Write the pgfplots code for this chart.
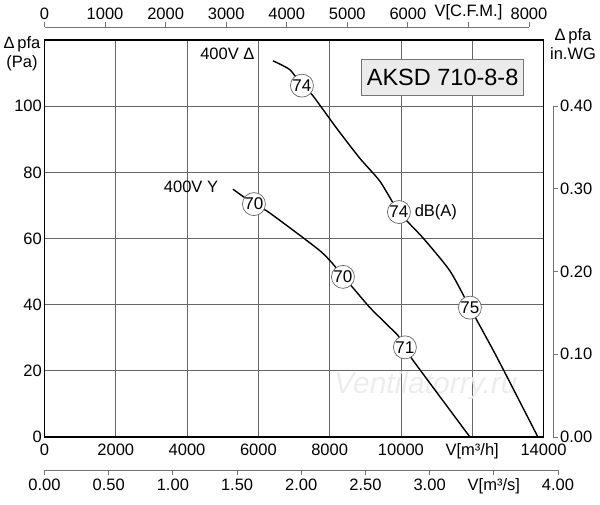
\documentclass[border=0pt]{standalone}
\usepackage{pgfplots}
\pgfplotsset{compat=1.18}
\usepackage{fontspec}
\setmainfont{Liberation Sans}
\newcommand{\tfont}{\fontsize{16.5}{19}\selectfont}
\begin{document}
\begin{tikzpicture}[x=1pt,y=1pt]
\path[use as bounding box] (0,0) rectangle (600,505);
% main axis
\begin{axis}[at={(44.5pt,68pt)}, anchor=south west, scale only axis,
  width=499pt, height=397pt,
  xmin=0, xmax=14000, ymin=0, ymax=120,
  xtick={0,2000,...,14000},
  xticklabels={0,2000,4000,6000,8000,10000,V[m³/h],14000},
  ytick={0,20,...,120},
  yticklabels={0,20,40,60,80,100,{}},
  grid=major, grid style={black!60, line width=0.7pt},
  major tick length=0pt,
  axis line style={black, line width=1.3pt},
  tick label style={font=\tfont, text=black},
  xticklabel style={yshift=-3pt},
  yticklabel style={inner sep=1pt, xshift=-1.5pt},
  scaled ticks=false, clip=false]
\node[font=\itshape\fontsize{30}{36}\selectfont, text=black!7, anchor=center] at (axis cs:10700,15.5) {Ventilatorry.ru};
\addplot[black, line width=1.4pt, smooth, tension=0.4] coordinates {
 (6410,113.7) (6886,111.0) (7223,106.2) (7504,103.5) (8205,93.2) (8850,84.2)
 (9411,77.3) (9944,68.0) (10617,60.2) (11375,50.2) (11936,39.1) (12693,24.1) (13843,0)};
\addplot[black, line width=1.4pt, smooth, tension=0.4] coordinates {
 (5287,74.9) (5876,70.4) (6241,68.3) (6887,63.2) (7728,56.3) (8093,52.3) (8373,48.4)
 (8654,45.1) (9131,39.1) (9692,33.1) (9916,30.7) (10112,27.1) (10337,23.2) (11936,0)};
\addplot[only marks, mark=*, mark size=11.5pt,
  mark options={fill=white, draw=black!60, line width=0.7pt},
  point meta=explicit symbolic,
  nodes near coords, nodes near coords align=center,
  every node near coord/.append style={font=\fontsize{17}{19}\selectfont, anchor=center, inner sep=0pt}]
  coordinates {(7223,106.2)[74] (9944,68.0)[74] (11936,39.1)[75]
               (5876,70.4)[70] (8373,48.4)[70] (10112,27.1)[71]};
\node[font=\tfont, anchor=center] at (axis cs:5130,115.8) {400V Δ};
\node[font=\tfont, anchor=center] at (axis cs:4110,75.5) {400V Y};
\node[font=\tfont, anchor=center] at (axis cs:10980,67.9) {dB(A)};
\node[font=\fontsize{23.5}{27}\selectfont, fill=black!8, draw=black!55, line width=0.8pt,
  inner xsep=5pt, inner ysep=0pt, minimum height=36pt, anchor=center] at (axis cs:11170,108.8) {AKSD 710-8-8};
\end{axis}
% CFM axis (top)
\begin{axis}[at={(44.5pt,478pt)}, anchor=north west, scale only axis,
  width=484.5pt, height=5pt,
  xmin=0, xmax=8000, ymin=0, ymax=1,
  axis x line*=top, axis y line=none,
  xtick={0,1000,...,8000},
  xticklabels={0,1000,2000,3000,4000,5000,6000,V[C.F.M.],8000},
  tick align=outside, major tick length=5pt,
  axis line style={black!55, line width=0.8pt},
  tick style={black!55, line width=0.8pt},
  tick label style={font=\tfont, text=black},
  xticklabel style={yshift=-1pt},
  scaled ticks=false]
\end{axis}
% m3/s axis (bottom)
\begin{axis}[at={(44.5pt,35pt)}, anchor=south west, scale only axis,
  width=513.5pt, height=5pt,
  xmin=0, xmax=4, ymin=0, ymax=1,
  axis x line*=bottom, axis y line=none,
  xtick={0,0.5,...,4},
  xticklabels={0.00,0.50,1.00,1.50,2.00,2.50,3.00,V[m³/s],4.00},
  tick align=outside, major tick length=5pt,
  axis line style={black!55, line width=0.8pt},
  tick style={black!55, line width=0.8pt},
  tick label style={font=\tfont, text=black},
  scaled ticks=false]
\end{axis}
% in.WG axis (right)
\begin{axis}[at={(553pt,68pt)}, anchor=south east, scale only axis,
  width=5pt, height=331pt,
  xmin=0, xmax=1, ymin=0, ymax=0.4,
  axis y line*=right, axis x line=none,
  ytick={0,0.1,...,0.4},
  yticklabels={0.00,0.10,0.20,0.30,0.40},
  tick align=outside, major tick length=5pt,
  axis line style={black!55, line width=0.8pt},
  tick style={black!55, line width=0.8pt},
  tick label style={font=\tfont, text=black},
  yticklabel style={inner sep=1pt, xshift=1pt},
  scaled ticks=false]
\end{axis}
\node[font=\tfont, align=center, inner sep=0pt] at (22,451) {Δ\,pfa\\(Pa)};
\node[font=\tfont, align=center, inner sep=0pt] at (573,461) {Δ\,pfa\\in.WG};
\end{tikzpicture}
\end{document}
